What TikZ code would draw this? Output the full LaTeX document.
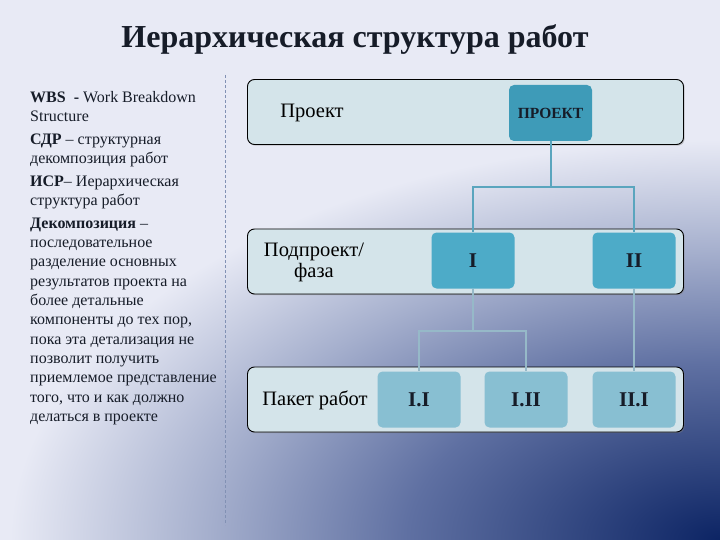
\documentclass[tikz,border=0pt]{standalone}
\usepackage{fontspec}
\setmainfont{Liberation Serif}
\usepackage{tikz}
\usetikzlibrary{positioning, shadows}
\definecolor{fondClair}{RGB}{232, 234, 245}
\definecolor{fondPale}{RGB}{165, 175, 205}
\definecolor{fondMoyen}{RGB}{95, 112, 162}
\definecolor{fondMarine}{RGB}{12, 36, 100}
\definecolor{bandeFond}{RGB}{212, 228, 234}
\definecolor{boiteHaut}{RGB}{62, 155, 184}
\definecolor{boiteMilieu}{RGB}{77, 171, 200}
\definecolor{boiteBas}{RGB}{136, 191, 210}
\definecolor{lienHaut}{RGB}{90, 165, 190}
\definecolor{lienBas}{RGB}{150, 185, 200}
\definecolor{texteFonce}{RGB}{22, 28, 40}
\definecolor{traitGris}{RGB}{130, 145, 180}
\pgfdeclareradialshading{fondDegrade}{\pgfpoint{0bp}{0bp}}{%
  color(0bp)=(fondMarine); color(11bp)=(fondMoyen); color(18bp)=(fondPale);
  color(25bp)=(fondClair); color(50bp)=(fondClair)}

\begin{document}
\begin{tikzpicture}[x=1pt, y=-1pt,
  band/.style={rectangle, rounded corners=7pt, draw=black, line width=0.9pt,
    fill=bandeFond, minimum width=436pt, minimum height=65pt,
    drop shadow={shadow xshift=1.2pt, shadow yshift=-1.2pt, opacity=0.4}},
  wp/.style={rectangle, rounded corners=5pt, minimum width=83pt,
    minimum height=56pt, text=texteFonce,
    font=\fontsize{21}{23}\selectfont\bfseries},
  lvlA/.style={wp, fill=boiteHaut, font=\fontsize{15.5}{17}\selectfont\bfseries},
  lvlB/.style={wp, fill=boiteMilieu},
  lvlC/.style={wp, fill=boiteBas},
  lbl/.style={font=\fontsize{20.5}{21}\selectfont, align=center, text=black},
  link/.style={draw=lienHaut, line width=2pt},
  linkLow/.style={draw=lienBas, line width=2pt},
]
\useasboundingbox (0,0) rectangle (720,540);
% fond
\fill[fondClair] (0,0) rectangle (720,540);
\begin{scope}
  \clip (0,0) rectangle (720,540);
  \shade[shading=fondDegrade] (720,540) ellipse [x radius=710, y radius=400];
\end{scope}
\node[font=\fontsize{32}{35}\selectfont\bfseries, text=texteFonce, anchor=base]
  (titre) at (355,48) {Иерархическая структура работ};
\draw[traitGris, line width=0.8pt, dash pattern=on 3pt off 2pt] (225,75) -- (225,525);
% definitions a gauche
\node[anchor=north west, inner sep=0pt, align=left, text=texteFonce,
  font=\fontsize{16}{19.3}\selectfont] (defs) at (30,91)
  {\textbf{WBS \ -} Work Breakdown\\ Structure\\[3.4pt]
   \textbf{СДР} – структурная\\ декомпозиция работ\\[3.4pt]
   \textbf{ИСР}– Иерархическая\\ структура работ\\[3.4pt]
   \textbf{Декомпозиция} –\\ последовательное\\ разделение основных\\
   результатов проекта на\\ более детальные\\ компоненты до тех пор,\\
   пока эта детализация не\\ позволит получить\\ приемлемое представление\\
   того, что и как должно\\ делаться в проекте};
% bandes
\node[band] (bandProj)   at (465.5,112)   {};
\node[band] (bandPhase)  at (465.5,261.5) {};
\node[band] (bandPaquet) at (465.5,399.5) {};
\node[lbl] (lblProj)   at (312,113) {Проект};
\node[lbl] (lblPhase)  at (314,262) {Подпроект/\\фаза};
\node[lbl] (lblPaquet) at (315,400) {Пакет работ};
% boites
\node[lvlA] (projet) at (550.5,113)   {ПРОЕКТ};
\node[lvlB] (ph1)    at (473,260.5)   {I};
\node[lvlB] (ph2)    at (634,260.5)   {II};
\node[lvlC] (p11)    at (419,399.5)   {I.I};
\node[lvlC] (p12)    at (526,399.5)   {I.II};
\node[lvlC] (p21)    at (634,399.5)   {II.I};
% liens
\draw[link] (projet.south) -- ++(0,46) -| (ph1.north);
\draw[link] (projet.south) -- ++(0,46) -| (ph2.north);
\draw[linkLow] (ph1.south) -- ++(0,42) -| (p11.north);
\draw[linkLow] (ph1.south) -- ++(0,42) -| (p12.north);
\draw[linkLow] (ph2.south) -- (p21.north);
\end{tikzpicture}
\end{document}
